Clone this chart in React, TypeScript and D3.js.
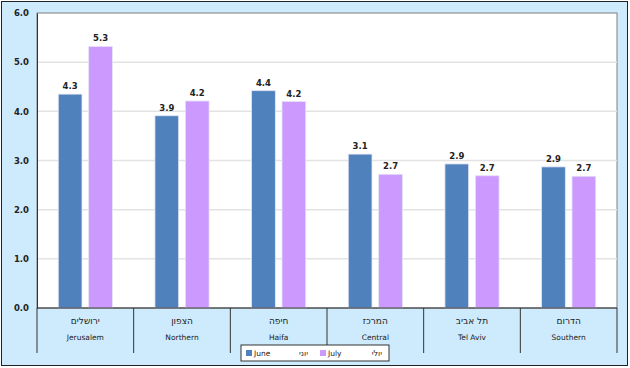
import { useEffect, useRef } from "react";
import * as d3 from "d3";

const W = 630;
const H = 368;
const M = { top: 13, right: 13, bottom: 60, left: 37 };

const regionsHe = ["ירושלים", "הצפון", "חיפה", "המרכז", "תל אביב", "הדרום"];
const regionsEn = ["Jerusalem", "Northern", "Haifa", "Central", "Tel Aviv", "Southern"];
const june = [4.35, 3.91, 4.42, 3.13, 2.93, 2.87];
const july = [5.32, 4.21, 4.2, 2.72, 2.69, 2.68];
const juneLabels = ["4.3", "3.9", "4.4", "3.1", "2.9", "2.9"];
const julyLabels = ["5.3", "4.2", "4.2", "2.7", "2.7", "2.7"];
const yTicks = [0, 1, 2, 3, 4, 5, 6];

const series = [
  { key: "June", he: "יוני", values: june, labels: juneLabels, color: "#4f81bd" },
  { key: "July", he: "יולי", values: july, labels: julyLabels, color: "#cc99ff" },
];

const FONT = "Verdana, 'DejaVu Sans', sans-serif";

export default function App() {
  const svgRef = useRef<SVGSVGElement>(null);

  useEffect(() => {
    if (!svgRef.current) return;
    const root = d3.select(svgRef.current);
    root.selectAll("*").remove();

    const innerW = W - M.left - M.right;
    const innerH = H - M.top - M.bottom;

    root
      .append("rect")
      .attr("x", 1.5)
      .attr("y", 1.5)
      .attr("width", W - 4)
      .attr("height", H - 4)
      .attr("fill", "#cdebfd")
      .attr("stroke", "#222")
      .attr("stroke-width", 1);

    const g = root.append("g").attr("transform", `translate(${M.left},${M.top})`);

    const x = d3.scaleBand<number>().domain(d3.range(regionsEn.length)).range([0, innerW]);
    const xs = d3
      .scaleBand<string>()
      .domain(series.map((s) => s.key))
      .range([x.bandwidth() * 0.22, x.bandwidth() * 0.78])
      .paddingInner(0.22);
    const y = d3.scaleLinear().domain([0, 6]).range([innerH, 0]);

    g.append("rect")
      .attr("width", innerW)
      .attr("height", innerH)
      .attr("fill", "#fff")
      .attr("stroke", "#7f7f7f")
      .attr("stroke-width", 1);

    g.selectAll(".grid")
      .data(yTicks.filter((t) => t > 0 && t < 6))
      .join("line")
      .attr("x1", 0)
      .attr("x2", innerW)
      .attr("y1", (d) => y(d))
      .attr("y2", (d) => y(d))
      .attr("stroke", "#e3e3e3")
      .attr("stroke-width", 1.5);

    series.forEach((s) => {
      const sg = g.append("g");
      sg.selectAll("rect")
        .data(s.values)
        .join("rect")
        .attr("x", (_, i) => (x(i) ?? 0) + (xs(s.key) ?? 0))
        .attr("y", (d) => y(d))
        .attr("width", xs.bandwidth())
        .attr("height", (d) => innerH - y(d))
        .attr("fill", s.color)
        .attr("stroke", "#e4e4f4")
        .attr("stroke-width", 0.8);
      sg.selectAll("text")
        .data(s.values)
        .join("text")
        .attr("x", (_, i) => (x(i) ?? 0) + (xs(s.key) ?? 0) + xs.bandwidth() / 2)
        .attr("y", (d) => y(d) - 5)
        .attr("text-anchor", "middle")
        .attr("font-family", FONT)
        .attr("font-size", 8.5)
        .attr("font-weight", "bold")
        .attr("fill", "#222")
        .text((_, i) => s.labels[i]);
    });

    // y axis
    g.append("g")
      .call(d3.axisLeft(y).tickValues(yTicks).tickSize(0).tickPadding(8).tickFormat(d3.format(".1f")))
      .call((a) => a.select(".domain").attr("stroke", "#333"))
      .call((a) =>
        a.selectAll("text").attr("font-family", FONT).attr("font-size", 8.5).attr("font-weight", "bold").attr("fill", "#222")
      );

    // x axis baseline
    g.append("line")
      .attr("x1", 0)
      .attr("x2", innerW)
      .attr("y1", innerH)
      .attr("y2", innerH)
      .attr("stroke", "#333");

    // category separators
    g.selectAll(".sep")
      .data(d3.range(regionsEn.length + 1))
      .join("line")
      .attr("x1", (i) => (i < regionsEn.length ? x(i) ?? 0 : innerW))
      .attr("x2", (i) => (i < regionsEn.length ? x(i) ?? 0 : innerW))
      .attr("y1", innerH)
      .attr("y2", innerH + 45)
      .attr("stroke", "#333");

    g.selectAll(".he")
      .data(regionsHe)
      .join("text")
      .attr("x", (_, i) => (x(i) ?? 0) + x.bandwidth() / 2)
      .attr("y", innerH + 16)
      .attr("text-anchor", "middle")
      .attr("font-family", "'DejaVu Sans', sans-serif")
      .attr("font-size", 9)
      .attr("fill", "#222")
      .attr("direction", "rtl")
      .text((d) => d);

    g.selectAll(".en")
      .data(regionsEn)
      .join("text")
      .attr("x", (_, i) => (x(i) ?? 0) + x.bandwidth() / 2)
      .attr("y", innerH + 32)
      .attr("text-anchor", "middle")
      .attr("font-family", FONT)
      .attr("font-size", 7.5)
      .attr("fill", "#222")
      .text((d) => d);

    // legend
    const lg = root.append("g").attr("transform", "translate(241,345)");
    lg.append("rect").attr("width", 148).attr("height", 16).attr("fill", "#fff").attr("stroke", "#333");
    series.forEach((s, i) => {
      const ig = lg.append("g").attr("transform", `translate(${5 + i * 74},0)`);
      ig.append("rect").attr("x", 0).attr("y", 5).attr("width", 6).attr("height", 6).attr("fill", s.color);
      ig.append("text")
        .attr("x", 8)
        .attr("y", 11)
        .attr("font-family", FONT)
        .attr("font-size", 7.5)
        .attr("fill", "#222")
        .text(s.key);
      ig.append("text")
        .attr("x", 62)
        .attr("y", 11)
        .attr("text-anchor", "end")
        .attr("font-family", "'DejaVu Sans', sans-serif")
        .attr("font-size", 8)
        .attr("fill", "#222")
        .text(s.he);
    });
  }, []);

  return (
    <svg
      ref={svgRef}
      width={W}
      height={H}
      viewBox={`0 0 ${W} ${H}`}
      style={{ position: "absolute", left: 0, top: 0 }}
    />
  );
}
